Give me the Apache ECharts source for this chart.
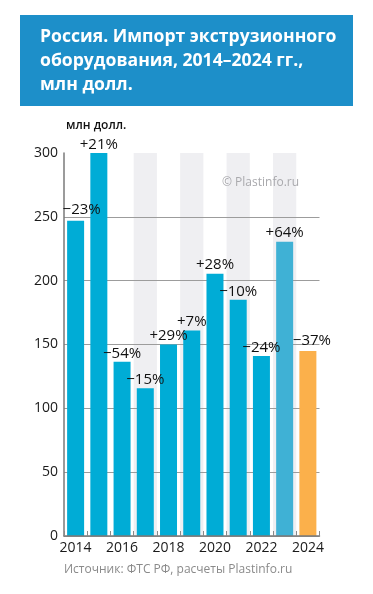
<!DOCTYPE html>
<html><head><meta charset="utf-8">
<script src="https://cdn.jsdelivr.net/npm/echarts@6/dist/echarts.min.js"></script>
<style>html,body{margin:0;padding:0;background:#fff}#c{width:373px;height:594px}</style>
</head><body><div id="c"></div>
<script>
const years = ['2014','2015','2016','2017','2018','2019','2020','2021','2022','2023','2024'];
const values = [247, 300, 136.5, 115.7, 150, 161, 205.5, 185, 141, 230.5, 145];
const changes = ['\u221223%','+21%','\u221254%','\u221215%','+29%','+7%','+28%','\u221210%','\u221224%','+64%','\u221237%'];
const shaded = [null, null, null, 300, null, 300, null, 300, null, 300, null];
const yTicks = [0, 50, 100, 150, 200, 250, 300];

const titleLines = ['Россия. Импорт экструзионного', 'оборудования, 2014–2024 гг.,', 'млн долл.'];
const unitText = 'млн долл.';
const sourceText = 'Источник: ФТС РФ, расчеты Plastinfo.ru';
const watermark = '© Plastinfo.ru';

const barColors = years.map((y, i) => i === 10 ? '#fbb04b' : (i === 9 ? '#3fb1d5' : '#00acd6'));
const labelOffsets = years.map((y, i) => i === 0 ? [6, -2] : (i === 10 ? [4, -2] : [0, 0]));

const chart = echarts.init(document.getElementById('c'), null, {renderer: 'canvas'});
const font = '"Open Sans", "Noto Sans", sans-serif';

chart.setOption({
  animation: false,
  grid: {left: 64, right: 53.5, top: 153, bottom: 58},
  xAxis: [{
    type: 'category', data: years, z: 4,
    axisLine: {lineStyle: {color: '#7a7a7a', width: 1.5}},
    axisTick: {show: true, inside: true, length: 5, interval: 0, lineStyle: {color: '#8a8a8a'}},
    axisLabel: {interval: 1, color: '#1a1a1a', fontSize: 14, fontFamily: font, margin: 5},
    splitLine: {show: false}
  }, {
    type: 'category', data: years, show: false, gridIndex: 0
  }],
  yAxis: {
    type: 'value', min: 0, max: 300, interval: 50, z: 2,
    axisLine: {show: true, lineStyle: {color: '#7a7a7a', width: 1.5}},
    axisTick: {show: false},
    axisLabel: {color: '#1a1a1a', fontSize: 14, fontFamily: font, margin: 6,
      formatter: v => yTicks.includes(v) ? String(v) : ''},
    splitLine: {show: true, showMaxLine: false, lineStyle: {color: '#9c9c9c', width: 1}}
  },
  series: [{
    type: 'bar', xAxisIndex: 1, data: shaded, barWidth: '100%', silent: true,
    itemStyle: {color: '#efeff2'}, z: 1
  }, {
    type: 'bar', xAxisIndex: 0, barWidth: 17, z: 3,
    data: values.map((v, i) => ({
      value: v,
      itemStyle: {color: barColors[i]},
      label: {offset: labelOffsets[i]}
    })),
    label: {
      show: true, position: 'top', distance: 1,
      color: '#111', fontSize: 15, fontFamily: font,
      formatter: p => changes[p.dataIndex]
    }
  }],
  graphic: [
    {type: 'rect', shape: {x: 20, y: 15, width: 333, height: 91}, style: {fill: '#1d8fc9'}, z: 10},
    {type: 'text', left: 40, top: 25, z: 11, style: {text: titleLines.join('\n'), fill: '#fff', font: 'bold 17.6px ' + font, lineHeight: 24}},
    {type: 'text', left: 66, top: 120, z: 11, style: {text: unitText, fill: '#111', font: '600 12px ' + font}},
    {type: 'text', left: 222, top: 177, z: 11, style: {text: watermark, fill: '#a9a9ad', font: '12px ' + font}},
    {type: 'text', left: 64, top: 564, z: 11, style: {text: sourceText, fill: '#8a8a8a', font: '12px ' + font}}
  ]
});
</script></body></html>
